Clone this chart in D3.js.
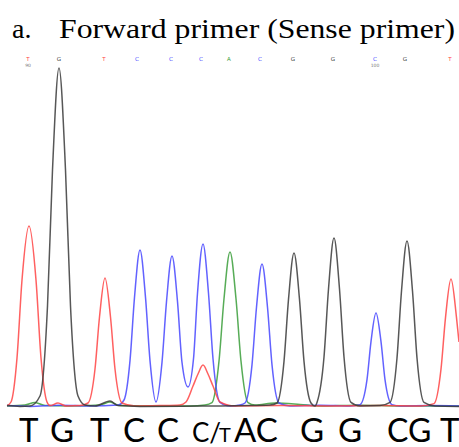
<!DOCTYPE html>
<html>
<head>
<meta charset="utf-8">
<script src="https://cdn.jsdelivr.net/npm/d3@7"></script>
<style>
  body { margin: 0; background: #fff; }
  svg { display: block; }
</style>
</head>
<body>
<svg id="chart" width="459" height="447"></svg>
<script>
// chromatogram traces, [scan, signal]
let traceA = [[4107,10],[4125,15],[4135,28],[4145,12],[4170,10],[4200,15],[4210,30],[4220,12],[4250,10],[4290,10],[4305,15],
  [4312,27],[4319,234],[4324,546],[4330,780],[4336,546],[4341,234],[4348,27],[4355,15],[4375,25],[4400,18],[4420,10],
  [4460,14],[4500,10],[4559,10]];
let traceC = [[4107,12],[4130,8],[4160,14],[4190,10],[4218,15],[4224,40],[4230,237],[4234.5,553],[4240,790],[4245.5,553],
  [4250,237],[4256,30],[4262,228],[4266.5,532],[4272,760],[4277.5,532],[4282,228],[4288,105],[4293.5,246],[4297.5,574],
  [4303,820],[4308.5,574],[4313,246],[4320,28],[4330,10],[4340,15],[4345,25],[4352,216],[4356.5,504],[4362,720],
  [4367.5,504],[4372,216],[4379,25],[4390,10],[4420,14],[4450,10],[4460,17],[4467,142],[4471,332],[4476,475],[4481,332],
  [4485,142],[4492,17],[4500,10],[4530,12],[4559,10]];
let traceG = [[4107,12],[4120,8],[4130,10],[4140,60],[4147.5,510],[4152.5,1190],[4159,1700],[4165.5,1190],[4170.5,510],
  [4178,60],[4185,15],[4195,10],[4210,35],[4218,12],[4240,8],[4300,10],[4350,12],[4370,15],[4377,25],[4384,233],
  [4388.5,543],[4394,775],[4399.5,543],[4404,233],[4411,25],[4415,10],[4417,28],[4424,255],[4428.5,595],[4434,850],
  [4439.5,595],[4444,255],[4451,28],[4460,10],[4480,12],[4490,28],[4497,250],[4501.5,585],[4507,835],[4512.5,585],
  [4517,250],[4524,28],[4535,10],[4559,8]];
let traceT = [[4107,12],[4111,30],[4117,250],[4122,640],[4129,910],[4136,640],[4141,250],[4147,30],[4150,12],[4158,25],
  [4166,10],[4180,12],[4188,25],[4195,195],[4199.5,455],[4205,650],[4210.5,455],[4215,195],[4222,25],[4235,10],[4260,12],
  [4280,15],[4286,30],[4293,110],[4298,170],[4303,215],[4308,170],[4313,110],[4320,30],[4335,10],[4380,12],[4430,10],
  [4480,12],[4520,10],[4534,22],[4541,194],[4545.5,452],[4551,645],[4556.5,452],[4559,330]];

// base calls along the top
let baseCalls = ['T','G','T','C','C','C','A','C','G','G','C','G','T'];
let basePos = [4128,4159,4204,4237,4271,4301,4329,4360,4393,4433,4475,4505,4550];
let baseNumbers = [[0, '90'], [10, '100']];

// sequence written under the trace
let seqLabels = ['T','G','T','C','C','C/','T','AC','G','G','CG','T'];

let chartBase = 408, chartTop = 68;

let x = d3.scaleLinear().domain([4100, 4559]).range([0, 459]);
let y = d3.scaleLinear().domain([0, 1700]).range([chartBase, chartTop]);

let color = {A: '#3a9e3a', C: '#4646ff', G: '#3a3a3a', T: '#ff4444'};

let svg = d3.select('#chart');

// title
let title = svg.append('g').attr('font-family', '"Liberation Serif", "Times New Roman", serif')
  .attr('font-size', 28).attr('fill', '#000');
title.append('text').attr('x', 12).attr('y', 38).text('a.');
title.append('text').attr('x', 59).attr('y', 38)
  .attr('textLength', 396).attr('lengthAdjust', 'spacingAndGlyphs')
  .text('Forward primer (Sense primer)');

// traces
let line = d3.line()
  .x(d => x(d[0]))
  .y(d => y(d[1]))
  .curve(d3.curveMonotoneX);

let traces = [['A', traceA], ['C', traceC], ['T', traceT], ['G', traceG]];
svg.append('g')
  .selectAll('path')
  .data(traces)
  .join('path')
  .attr('fill', 'none')
  .attr('stroke', d => color[d[0]])
  .attr('stroke-width', 1.5)
  .attr('stroke-opacity', 0.85)
  .attr('stroke-linejoin', 'round')
  .attr('d', d => line(d[1]));

// base calls
let calls = svg.append('g').attr('font-family', 'DejaVu Sans, sans-serif').attr('text-anchor', 'middle');
calls.selectAll('text.call')
  .data(baseCalls)
  .join('text')
  .attr('class', 'call')
  .attr('x', (d, i) => x(basePos[i]))
  .attr('y', 61)
  .attr('font-size', 5.5)
  .attr('fill', d => color[d])
  .text(d => d);
calls.selectAll('text.num')
  .data(baseNumbers)
  .join('text')
  .attr('class', 'num')
  .attr('x', d => x(basePos[d[0]]))
  .attr('y', 66.5)
  .attr('font-size', 4.5)
  .attr('fill', '#777')
  .text(d => d[1]);

// sequence under the trace
let seqX = [19, 50, 90, 123, 157, 192, 219, 234, 300, 338, 387, 440];
let seqSize = [33, 33, 33, 33, 33, 26, 20, 33, 33, 33, 32, 33];
svg.append('g')
  .attr('font-family', 'Lato, "Open Sans", sans-serif')
  .attr('fill', '#000')
  .selectAll('text')
  .data(seqLabels)
  .join('text')
  .attr('x', (d, i) => seqX[i])
  .attr('y', 442)
  .attr('font-size', (d, i) => seqSize[i])
  .text(d => d);
</script>
</body>
</html>
